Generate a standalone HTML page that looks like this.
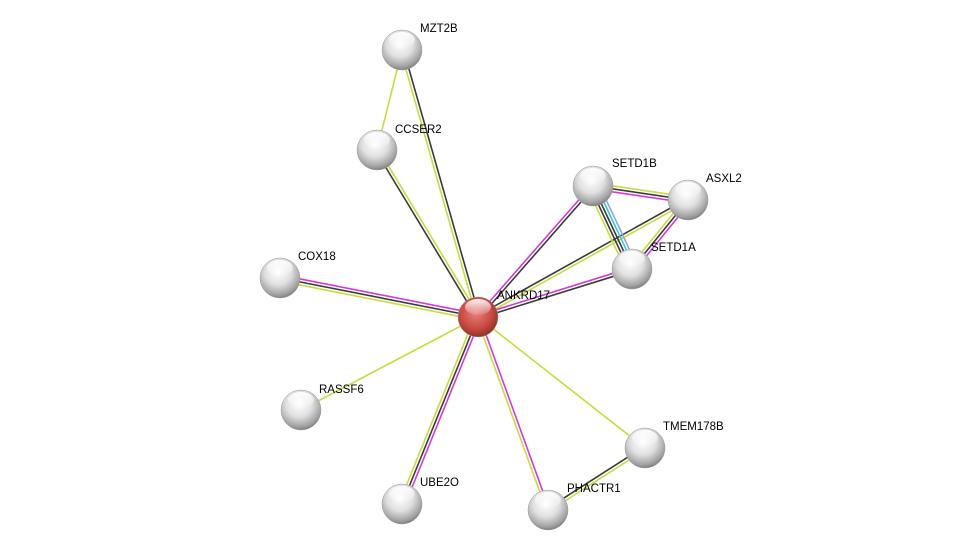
<!DOCTYPE html>
<html><head><meta charset="utf-8"><style>
html,body{margin:0;padding:0;background:#fff;width:975px;height:555px;overflow:hidden}
text{font-family:"Liberation Sans",sans-serif;font-size:11.5px;fill:#000}
</style></head><body>
<svg id="s" width="975" height="555" viewBox="0 0 975 555">
<defs>
<radialGradient id="g" cx="45%" cy="35%" r="65%">
<stop offset="0" stop-color="#ffffff"/><stop offset="0.5" stop-color="#e0e0e0"/><stop offset="0.88" stop-color="#a0a0a0"/><stop offset="1" stop-color="#808080"/>
</radialGradient>
<radialGradient id="r" cx="45%" cy="40%" r="65%">
<stop offset="0" stop-color="#e88080"/><stop offset="0.6" stop-color="#c84a40"/><stop offset="1" stop-color="#8a2a22"/>
</radialGradient>
<linearGradient id="hl" x1="0" y1="0" x2="0" y2="1">
<stop offset="0" stop-color="#fff" stop-opacity="0.95"/><stop offset="1" stop-color="#fff" stop-opacity="0.1"/>
</linearGradient>
</defs>
<g id="edges"></g>
<g id="nodes"></g>
<text x="420" y="32">MZT2B</text>
<text x="395" y="133">CCSER2</text>
<text x="612" y="167">SETD1B</text>
<text x="706" y="182">ASXL2</text>
<text x="651" y="251">SETD1A</text>
<text x="298" y="260">COX18</text>
<text x="497" y="299">ANKRD17</text>
<text x="319" y="393">RASSF6</text>
<text x="663" y="430">TMEM178B</text>
<text x="420" y="486">UBE2O</text>
<text x="567" y="492">PHACTR1</text>
</svg>
<script>
var N={MZT2B:[402,50],CCSER2:[377,150],SETD1B:[593,186],ASXL2:[688,200],SETD1A:[632,269],COX18:[280,278],ANKRD17:[478,317],RASSF6:[301,410],TMEM178B:[645,448],UBE2O:[402,504],PHACTR1:[548,510]};
var Y='#c8dc3c',D='#3a3a3a',M='#d838d8',B='#8aa8f0',C='#38c8d8';
var E=[['ANKRD17','MZT2B',[Y,D]],['ANKRD17','CCSER2',[D,Y]],['MZT2B','CCSER2',[Y]],['ANKRD17','COX18',[Y,D,M]],['ANKRD17','RASSF6',[Y]],['ANKRD17','UBE2O',[M,D,Y]],['ANKRD17','PHACTR1',[M,Y]],['ANKRD17','TMEM178B',[Y]],['TMEM178B','PHACTR1',[Y,D]],['ANKRD17','SETD1B',[M,D]],['ANKRD17','ASXL2',[D,Y]],['ANKRD17','SETD1A',[M,D]],['SETD1B','ASXL2',[Y,D,M]],['SETD1B','SETD1A',[B,C,D,D,Y]],['ASXL2','SETD1A',[M,D,Y]]];
var ns='http://www.w3.org/2000/svg',eg=document.getElementById('edges'),ng=document.getElementById('nodes');
E.forEach(function(e){var a=N[e[0]],b=N[e[1]],dx=b[0]-a[0],dy=b[1]-a[1],L=Math.hypot(dx,dy),px=-dy/L,py=dx/L,n=e[2].length;
e[2].forEach(function(c,i){var o=(i-(n-1)/2)*3;var l=document.createElementNS(ns,'line');
l.setAttribute('x1',a[0]+px*o);l.setAttribute('y1',a[1]+py*o);l.setAttribute('x2',b[0]+px*o);l.setAttribute('y2',b[1]+py*o);
l.setAttribute('stroke',c);l.setAttribute('stroke-width','1.6');eg.appendChild(l);});});
for(var k in N){var p=N[k];
var c=document.createElementNS(ns,'circle');c.setAttribute('cx',p[0]);c.setAttribute('cy',p[1]);c.setAttribute('r',20);
c.setAttribute('fill',k=='ANKRD17'?'url(#r)':'url(#g)');c.setAttribute('stroke','#999');c.setAttribute('stroke-width','0.5');ng.appendChild(c);
var h=document.createElementNS(ns,'ellipse');h.setAttribute('cx',p[0]);h.setAttribute('cy',p[1]-10);h.setAttribute('rx',13);h.setAttribute('ry',8);h.setAttribute('fill','url(#hl)');ng.appendChild(h);}
</script>
</body></html>
